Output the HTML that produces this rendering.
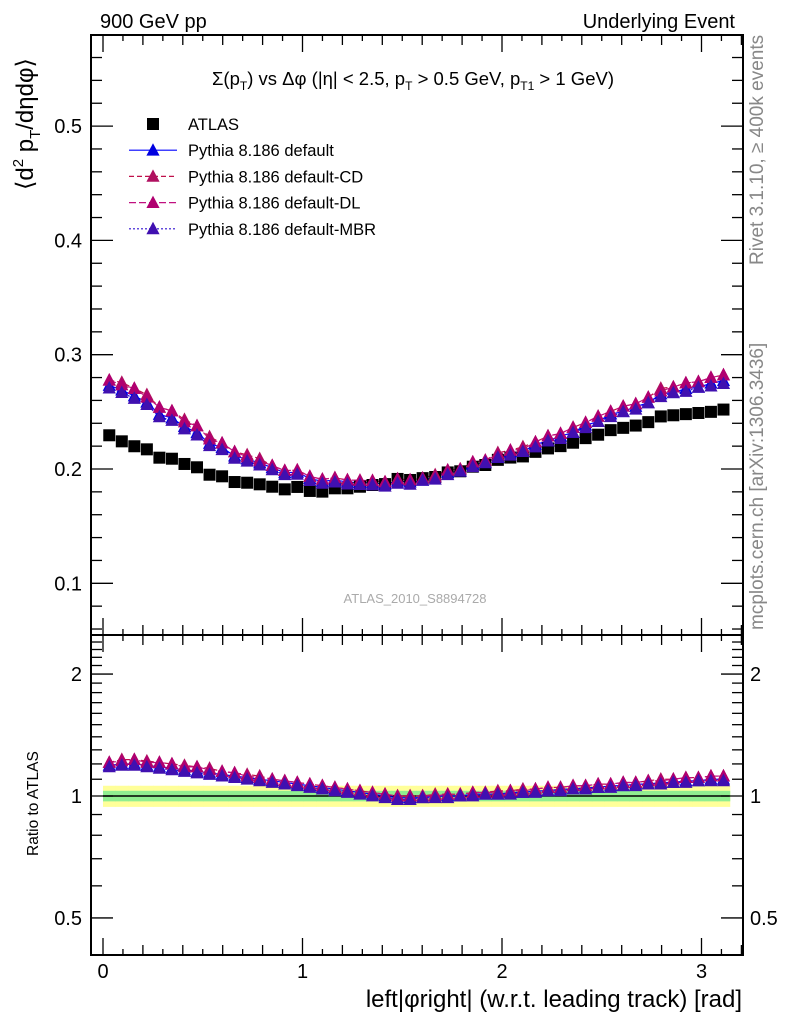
<!DOCTYPE html>
<html><head><meta charset="utf-8"><style>
html,body{margin:0;padding:0;background:#fff;}
svg{display:block;font-family:"Liberation Sans","DejaVu Sans",sans-serif;}
</style></head><body>
<svg id="c" width="786" height="1024" viewBox="0 0 786 1024" xmlns="http://www.w3.org/2000/svg">
<text x="100" y="28" font-size="20">900 GeV pp</text>
<text x="735" y="28" font-size="20" text-anchor="end">Underlying Event</text>
<text x="413" y="85" font-size="18.5" text-anchor="middle">Σ(p<tspan font-size="12" dy="5">T</tspan><tspan dy="-5">) vs Δφ (|η| &lt; 2.5, p</tspan><tspan font-size="12" dy="5">T</tspan><tspan dy="-5"> &gt; 0.5 GeV, p</tspan><tspan font-size="12" dy="5">T1</tspan><tspan dy="-5"> &gt; 1 GeV)</tspan></text>
<text transform="translate(33,190) rotate(-90)" font-size="24">⟨d<tspan font-size="15" dy="-10">2</tspan><tspan dy="10"> p</tspan><tspan font-size="15" dy="7">T</tspan><tspan dy="-7">/dηdφ⟩</tspan></text>
<text transform="translate(38,856) rotate(-90)" font-size="15.5">Ratio to ATLAS</text>
<text x="742" y="1007" font-size="24" text-anchor="end">left|φright| (w.r.t. leading track) [rad]</text>
<text transform="translate(763,265) rotate(-90)" font-size="19" fill="#888">Rivet 3.1.10, ≥ 400k events</text>
<text transform="translate(763,630) rotate(-90)" font-size="19" fill="#888">mcplots.cern.ch [arXiv:1306.3436]</text>
<text x="415" y="603" font-size="13" fill="#aaa" text-anchor="middle">ATLAS_2010_S8894728</text>
<g id="bands"></g><g id="axes"></g><g id="series"></g><g id="legend"></g>
</svg>
<script>
const atlas=[0.2295,0.2242,0.2199,0.2172,0.2099,0.2090,0.2044,0.2015,0.1950,0.1936,0.1886,0.1880,0.1866,0.1845,0.1822,0.1843,0.1808,0.1802,0.1831,0.1831,0.1845,0.1860,0.1868,0.1913,0.1904,0.192,0.193,0.197,0.198,0.202,0.2035,0.208,0.210,0.211,0.215,0.218,0.220,0.223,0.227,0.230,0.234,0.236,0.238,0.241,0.246,0.247,0.248,0.249,0.250,0.252];
const ratioDefault=[1.19,1.20,1.20,1.19,1.18,1.17,1.16,1.15,1.14,1.13,1.12,1.11,1.10,1.09,1.08,1.07,1.06,1.05,1.04,1.03,1.02,1.01,1.00,0.99,0.99,0.99,1.00,1.00,1.00,1.01,1.01,1.01,1.02,1.02,1.03,1.03,1.04,1.04,1.05,1.05,1.06,1.06,1.07,1.07,1.08,1.08,1.09,1.09,1.10,1.10];
const ratioCD=[1.21,1.23,1.23,1.22,1.21,1.20,1.19,1.18,1.17,1.15,1.14,1.13,1.12,1.10,1.09,1.08,1.07,1.06,1.05,1.04,1.03,1.02,1.01,1.00,1.00,1.00,1.01,1.01,1.01,1.02,1.02,1.03,1.03,1.04,1.04,1.05,1.05,1.06,1.06,1.07,1.07,1.08,1.08,1.09,1.10,1.10,1.11,1.11,1.12,1.12];
const ratioDL=[1.21,1.22,1.23,1.21,1.21,1.20,1.18,1.18,1.16,1.15,1.14,1.12,1.11,1.10,1.09,1.08,1.07,1.06,1.05,1.04,1.03,1.02,1.01,1.00,1.00,1.00,1.00,1.01,1.01,1.02,1.02,1.02,1.03,1.03,1.04,1.05,1.05,1.06,1.06,1.07,1.07,1.08,1.08,1.09,1.09,1.10,1.11,1.11,1.12,1.12];
const ratioMBR=[1.18,1.19,1.19,1.18,1.17,1.16,1.15,1.14,1.13,1.12,1.11,1.10,1.09,1.08,1.07,1.06,1.05,1.04,1.03,1.02,1.01,1.00,0.99,0.98,0.98,0.99,0.99,0.99,1.00,1.00,1.01,1.01,1.01,1.02,1.02,1.03,1.03,1.04,1.04,1.05,1.05,1.06,1.06,1.07,1.07,1.08,1.08,1.09,1.09,1.09];
const bandTotal=0.06;
const bandStat=0.03;
const xTickLabels=["0","1","2","3"];
const yTickLabels=["0.1","0.2","0.3","0.4","0.5"];
const rTickLabels=["0.5","1","2"];

const NS="http://www.w3.org/2000/svg";
const X0=91,X1=743,YT=35,YM=635,YB=955;
const xs=v=>103+v*199.5;
const ys=v=>469-(v-0.2)*1143;
const yr=r=>796-405*Math.log10(r);
const binX=i=>(i+0.5)*Math.PI/atlas.length;
function mk(tag,attrs,parent){const e=document.createElementNS(NS,tag);for(const k in attrs)e.setAttribute(k,attrs[k]);parent.appendChild(e);return e;}
const axes=document.getElementById('axes'),ser=document.getElementById('series'),bands=document.getElementById('bands'),leg=document.getElementById('legend');

for(let i=0;i<atlas.length;i++){const x0=xs(i*Math.PI/atlas.length),x1=xs((i+1)*Math.PI/atlas.length);
 const y=mk('rect',{x:x0,y:yr(1+bandTotal),width:x1-x0+0.5,height:yr(1-bandTotal)-yr(1+bandTotal),fill:'#ffff99'},bands);
 
 
}
for(let i=0;i<atlas.length;i++){const x0=xs(i*Math.PI/atlas.length),x1=xs((i+1)*Math.PI/atlas.length);
 const g=mk('rect',{x:x0,y:yr(1+bandStat),width:x1-x0+0.5,height:yr(1-bandStat)-yr(1+bandStat),fill:'#90ee90'},bands);
 
 
}
const one=mk('line',{x1:xs(0),x2:xs(Math.PI),y1:yr(1),y2:yr(1),stroke:'#000','stroke-width':1.5},bands);



const f1=mk('rect',{x:X0,y:YT,width:X1-X0,height:YM-YT,fill:'none',stroke:'#000','stroke-width':2},axes);


const f2=mk('rect',{x:X0,y:YM,width:X1-X0,height:YB-YM,fill:'none',stroke:'#000','stroke-width':2},axes);


function tick(x1,y1,x2,y2){const t=mk('line',{x1,y1,x2,y2,stroke:'#000','stroke-width':1.3},axes);}
for(let k=0;k<=32;k++){const v=k/10,x=xs(v);const L=k%10==0?17:(k%2==0?10:6);
 tick(x,YT,x,YT+L);tick(x,YM,x,YM-L);tick(x,YM,x,YM+L);tick(x,YB,x,YB-L);}
xTickLabels.forEach((s,i)=>{const t=mk('text',{x:xs(i),y:978,'font-size':20,'text-anchor':'middle'},axes);t.textContent=s;
 
 });
for(let k=3;k<=29;k++){const v=k*0.02,y=ys(v);if(y<YT||y>YM)continue;const L=k%5==0?22:11;tick(X0,y,X0+L,y);tick(X1,y,X1-L,y);}
yTickLabels.forEach(s=>{const t=mk('text',{x:82,y:ys(parseFloat(s))+7,'font-size':20,'text-anchor':'end'},axes);t.textContent=s;
 
 });
for(let k=4;k<=25;k++){const r=k/10,y=yr(r);if(y<YM||y>YB)continue;const L=(k==5||k==10||k==20)?22:11;tick(X0,y,X0+L,y);tick(X1,y,X1-L,y);}
rTickLabels.forEach(s=>{const y=yr(parseFloat(s))+7;
 const t=mk('text',{x:82,y,'font-size':20,'text-anchor':'end'},axes);t.textContent=s;
 
 
 const t2=mk('text',{x:750,y,'font-size':20},axes);t2.textContent=s;
 
 });

const models=[
 {name:'pythia-default',r:ratioDefault,c:'#0000ff',m:'#0000e0',dash:''},
 {name:'pythia-default-cd',r:ratioCD,c:'#c0104a',m:'#b01060',dash:'5,3'},
 {name:'pythia-default-dl',r:ratioDL,c:'#c01080',m:'#b00070',dash:'7,3'},
 {name:'pythia-default-mbr',r:ratioMBR,c:'#3010d0',m:'#4010b0',dash:'2,2'}];
function tri(cx,cy,s,col,name){const h=s;const p=mk('polygon',{points:`${cx},${cy-h*0.6} ${cx-h*0.55},${cy+h*0.45} ${cx+h*0.55},${cy+h*0.45}`,fill:col},ser);
 
 }
models.forEach(md=>{
 let pm=[],pr=[];
 for(let i=0;i<atlas.length;i++){pm.push(xs(binX(i))+','+ys(atlas[i]*md.r[i]));pr.push(xs(binX(i))+','+yr(md.r[i]));}
 const l1=mk('polyline',{points:pm.join(' '),fill:'none',stroke:md.c,'stroke-width':1.2,'stroke-dasharray':md.dash},ser);
 
 
 const l2=mk('polyline',{points:pr.join(' '),fill:'none',stroke:md.c,'stroke-width':1.2,'stroke-dasharray':md.dash},ser);
 
 
});
for(let i=0;i<atlas.length;i++){const r=mk('rect',{x:xs(binX(i))-6,y:ys(atlas[i])-6,width:12,height:12,fill:'#000'},ser);
 
 }
models.forEach(md=>{for(let i=0;i<atlas.length;i++){
 tri(xs(binX(i)),ys(atlas[i]*md.r[i]),12,md.m,md.name+'-point');
 tri(xs(binX(i)),yr(md.r[i]),12,md.m,md.name+'-ratio-point');}});

const labels=['ATLAS','Pythia 8.186 default','Pythia 8.186 default-CD','Pythia 8.186 default-DL','Pythia 8.186 default-MBR'];
labels.forEach((s,k)=>{const y=124+k*26.2;
 const g=mk('g',{},leg);
 if(k==0){mk('rect',{x:147,y:y-6,width:12,height:12,fill:'#000'},g);}
 else{const md=models[k-1];mk('line',{x1:129,x2:177,y1:y,y2:y,stroke:md.c,'stroke-width':1.2,'stroke-dasharray':md.dash},g);
  mk('polygon',{points:`153,${y-7} 146.4,${y+5.4} 159.6,${y+5.4}`,fill:md.m},g);}
 const t=mk('text',{x:188,y:y+6,'font-size':16.5},g);t.textContent=s;});
</script>
</body></html>
